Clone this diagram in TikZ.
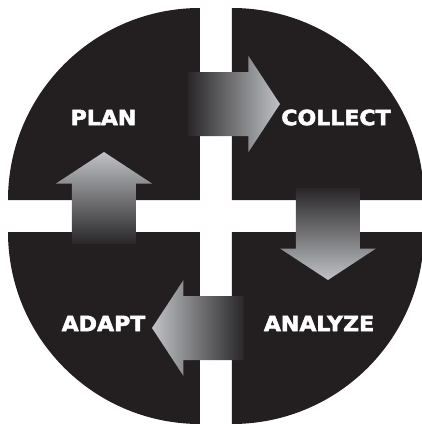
\documentclass[tikz,border=0pt]{standalone}
\usepackage{fontspec}
\usepackage{xcolor}
\usetikzlibrary{positioning}
\newfontfamily\cyclefont[FakeStretch=1.05,FakeBold=2.5]{DejaVu Sans}
\definecolor{cycleBlack}{RGB}{35,31,32}
\definecolor{cycleDark}{RGB}{40,38,40}
\definecolor{cycleLight}{RGB}{192,194,198}

\begin{document}
\begin{tikzpicture}[x=1pt,y=1pt,
  quad/.style={fill=cycleBlack},
  lbl/.style={text=white,font=\cyclefont\bfseries\fontsize{21}{24}\selectfont,inner sep=0pt},
  blockarrow/.style={bottom color=cycleDark,top color=cycleLight,shading angle=#1,rotate=#1}]
\clip (-216,-208) rectangle (206,216);
% four quarter discs with a 32pt cross between them
\path[quad] (-16,16) -- (-208,16) arc[start angle=180,end angle=90,radius=192] -- cycle;
\path[quad] (16,16) -- (16,208) arc[start angle=90,end angle=0,radius=192] -- cycle;
\path[quad] (16,-16) -- (208,-16) arc[start angle=0,end angle=-90,radius=192] -- cycle;
\path[quad] (-16,-16) -- (-16,-208) arc[start angle=-90,end angle=-180,radius=192] -- cycle;
% one block arrow, turned round the centre for each step
\foreach \r in {0,-90,-180,-270}
  \shade[blockarrow=\r] (-144,-28) -- (-80,-28) -- (-80,32.5) -- (-64,32.5) -- (-112,64)
    -- (-160,32.5) -- (-144,32.5) -- cycle;
\node[lbl] (plan) at (-112.5,98.5) {PLAN};
\node[lbl] (collect) at (120,98.5) {COLLECT};
\node[lbl] (analyze) at (103,-107.5) {ANALYZE};
\node[lbl] (adapt) at (-112.5,-107.5) {ADAPT};
\end{tikzpicture}
\end{document}
